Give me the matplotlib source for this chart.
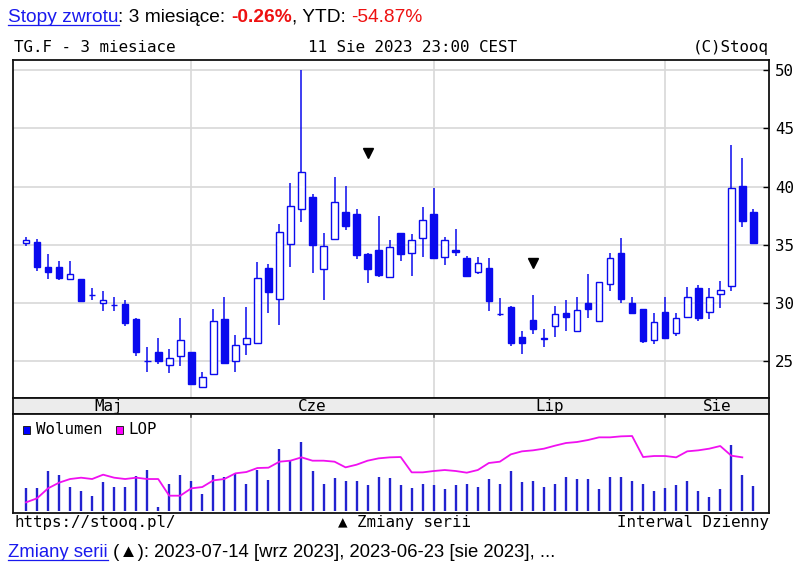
import matplotlib
matplotlib.use('Agg')
import matplotlib.pyplot as plt
from matplotlib.patches import Rectangle
from matplotlib.lines import Line2D
import numpy as np


# daily OHLC, TG.F, 2023-05-11 .. 2023-08-11 (one value per trading day)
opens = [35.15, 35.28, 33.13, 33.13, 32.08, 32.05, 30.72, 30.02, 29.88, 29.93,
         28.62, 25.06, 25.82, 24.70, 25.50, 25.82, 22.84, 23.93, 28.62, 25.00,
         26.47, 26.61, 33.00, 30.36, 35.05, 38.05, 39.14, 32.93, 35.48, 37.85,
         37.62, 34.22, 34.56, 32.28, 36.00, 34.28, 35.62, 37.62, 34.00, 34.60,
         33.85, 32.71, 33.00, 29.10, 29.70, 27.13, 28.56, 26.98, 28.08, 29.19,
         27.62, 30.00, 28.50, 31.62, 34.33, 30.05, 29.47, 26.84, 29.22, 27.47,
         28.79, 31.27, 29.28, 30.76, 31.48, 40.05, 37.85]
highs = [35.65, 35.50, 34.20, 33.60, 33.60, 32.10, 31.27, 31.05, 30.56, 30.27,
         28.70, 26.27, 27.00, 26.04, 28.70, 25.85, 24.07, 29.47, 30.56, 27.24,
         29.70, 33.50, 33.33, 36.77, 40.28, 50.00, 39.34, 36.00, 40.80, 40.05,
         38.08, 34.33, 37.50, 35.42, 36.05, 35.91, 38.23, 39.91, 35.65, 36.36,
         34.08, 33.93, 33.85, 30.42, 29.75, 27.64, 30.70, 27.76, 29.76, 30.27,
         30.56, 32.50, 31.85, 34.33, 35.56, 30.56, 29.50, 29.13, 30.56, 29.19,
         31.42, 31.56, 31.27, 31.90, 43.57, 42.48, 38.08]
lows = [34.90, 32.80, 32.05, 31.95, 32.05, 30.20, 30.27, 29.36, 29.36, 28.00,
        25.47, 24.13, 24.76, 24.00, 24.60, 23.05, 22.84, 23.90, 24.90, 24.13,
        25.56, 26.60, 29.13, 28.13, 33.13, 37.00, 32.56, 30.27, 35.45, 36.28,
        33.76, 31.70, 32.22, 32.20, 33.65, 32.33, 34.00, 33.85, 33.25, 34.05,
        32.33, 32.50, 29.36, 28.93, 26.33, 25.62, 27.33, 26.22, 27.13, 27.64,
        27.50, 28.76, 28.50, 31.05, 30.00, 29.15, 26.56, 26.47, 27.00, 27.19,
        28.75, 28.50, 28.62, 29.62, 31.08, 36.56, 35.19]
closes = [35.40, 33.13, 32.65, 32.20, 32.47, 30.22, 30.68, 30.30, 29.82, 28.27,
          25.80, 25.02, 25.00, 25.27, 26.84, 23.07, 23.70, 28.47, 24.90, 26.42,
          27.05, 32.13, 31.00, 36.14, 38.34, 41.22, 35.00, 34.91, 38.70, 36.65,
          34.13, 32.91, 32.42, 34.79, 34.22, 35.42, 37.14, 33.85, 35.42, 34.42,
          32.33, 33.42, 30.22, 29.04, 26.56, 26.56, 27.76, 26.90, 29.05, 28.79,
          29.42, 29.50, 31.79, 33.85, 30.33, 29.19, 26.76, 28.36, 27.05, 28.70,
          30.50, 28.76, 30.56, 31.13, 39.91, 37.08, 35.19]

# volume and LOP (relative units, panel has no scale)
volume = [67, 67, 119, 106, 71, 59, 45, 85, 72, 72,
          105, 122, 12, 80, 106, 89, 50, 106, 101, 111,
          80, 122, 93, 186, 149, 207, 119, 80, 97, 89,
          89, 76, 101, 97, 76, 68, 81, 77, 64, 77,
          81, 72, 94, 81, 120, 86, 90, 72, 81, 102,
          94, 94, 64, 102, 102, 90, 81, 60, 68, 77,
          90, 60, 42, 64, 196, 107, 73]
lop = [25, 37, 67, 84, 95, 99, 95, 108, 99, 95,
       99, 95, 95, 45, 45, 67, 71, 91, 95, 112,
       116, 128, 129, 147, 150, 160, 150, 150, 147, 130,
       138, 150, 157, 160, 161, 115, 115, 119, 122, 119,
       114, 122, 143, 147, 169, 178, 181, 186, 195, 203,
       206, 212, 220, 220, 223, 224, 161, 164, 164, 160,
       178, 181, 186, 194, 165, 160, np.nan]

months = ['Maj', 'Cze', 'Lip', 'Sie']
month_start = [15, 37, 58]          # index of first session of Cze, Lip, Sie

signal_idx = [31, 46]               # "Zmiany serii" markers (2023-06-23, 2023-07-14)
signal_level = [42.9, 33.45]

price_ticks = [25, 30, 35, 40, 45, 50]

BLUE = '#0a0aee'
GRID = '#d8d8d8'
MONO = 'DejaVu Sans Mono'
MONO_SIZE = 11.4
SANS = ['Liberation Sans', 'DejaVu Sans']
W, H = 800, 569


def fx(x):
    return x / W


def fy(y):
    return 1 - y / H


def rich_text(fig, x, y, parts, size):
    # draws pieces one after another on the same baseline
    renderer = fig.canvas.get_renderer()
    for s, color, weight, underline in parts:
        t = fig.text(fx(x), fy(y), s, color=color, fontweight=weight,
                     fontsize=size, family=SANS, va='baseline')
        bb = t.get_window_extent(renderer)
        if underline:
            fig.add_artist(Line2D([bb.x0 / W, bb.x1 / W], [fy(y + 2.5)] * 2,
                                  color=color, lw=0.9))
        x = bb.x1


fig = plt.figure(figsize=(W / 100, H / 100), dpi=100)
left, right = 13.3, 769.3
xlim = (-1.15, 67.45)

ax = fig.add_axes([fx(left), fy(398.3), (right - left) / W, (398.3 - 60) / H])
band = fig.add_axes([fx(left), fy(414), (right - left) / W, (414 - 398.3) / H])
vol = fig.add_axes([fx(left), fy(512.7), (right - left) / W, (512.7 - 414) / H])

# price panel
x = np.arange(len(opens))
o, h, l, c = map(np.array, (opens, highs, lows, closes))
up = c >= o
ax.vlines(x, l, h, color=BLUE, lw=1.1, zorder=2)
ax.bar(x, np.maximum(np.abs(c - o), 0.03), bottom=np.minimum(o, c), width=0.6,
       color=np.where(up, 'white', BLUE), edgecolor=BLUE, lw=1.0, zorder=3)
ax.plot(signal_idx, signal_level, 'v', color='black', ms=7.5, zorder=4)

ax.set_xlim(*xlim)
ax.set_ylim(21.84, 50.86)
ax.set_yticks(price_ticks)
ax.set_xticks([])
ax.yaxis.tick_right()
ax.tick_params(axis='y', direction='in', length=4, width=1, pad=4,
               labelsize=MONO_SIZE)
for lab in ax.get_yticklabels():
    lab.set_family(MONO)
ax.grid(axis='y', color=GRID, lw=1.2, zorder=0)
for m in month_start:
    ax.axvline(m, color=GRID, lw=1.2, zorder=0)

# month band
band.set_xlim(*xlim)
band.set_ylim(0, 1)
band.set_facecolor('#ececec')
band.set_xticks([])
band.set_yticks([])
edges = [0] + month_start + [xlim[1]]
for name, a, b in zip(months, edges[:-1], edges[1:]):
    band.text((a + b) / 2, 0.45, name, ha='center', va='center',
              family=MONO, fontsize=MONO_SIZE)

# volume panel
vol.vlines(x, 0, volume, color='#2222d0', lw=1.7, zorder=2)
vol.plot(x, lop, color='#f010f0', lw=1.3, zorder=3)
for m in month_start:
    vol.axvline(m, color=GRID, lw=1.2, zorder=0)
    vol.plot([m, m], [282, 290], color='#333333', lw=1.2)
vol.set_xlim(*xlim)
vol.set_ylim(-6, 290)
vol.set_xticks([])
vol.set_yticks([])

for a in (ax, band, vol):
    for sp in a.spines.values():
        sp.set_linewidth(1.3)
        sp.set_color('#111111')

# legend in volume panel
for x0, col in ((22.5, '#0000ff'), (115.5, '#ff00ff')):
    fig.add_artist(Rectangle((fx(x0), fy(434)), 7.5 / W, 8 / H,
                             transform=fig.transFigure, facecolor=col,
                             edgecolor='#222222', lw=0.7))
fig.text(fx(36), fy(434), 'Wolumen', family=MONO, fontsize=MONO_SIZE, va='baseline')
fig.text(fx(128), fy(434), 'LOP', family=MONO, fontsize=MONO_SIZE, va='baseline')

# chart header / footer (monospace)
fig.text(fx(14), fy(52), 'TG.F - 3 miesiace', family=MONO, fontsize=MONO_SIZE,
         va='baseline')
fig.text(fx(413), fy(52), '11 Sie 2023 23:00 CEST', family=MONO, fontsize=MONO_SIZE,
         va='baseline', ha='center')
fig.text(fx(769), fy(52), '(C)Stooq', family=MONO, fontsize=MONO_SIZE,
         va='baseline', ha='right')
fig.text(fx(14), fy(527), 'https://stooq.pl/', family=MONO, fontsize=MONO_SIZE,
         va='baseline')
fig.text(fx(405), fy(527), '\u25b2 Zmiany serii', family=MONO, fontsize=MONO_SIZE,
         va='baseline', ha='center')
fig.text(fx(769), fy(527), 'Interwal Dzienny', family=MONO, fontsize=MONO_SIZE,
         va='baseline', ha='right')

# page text above and below the chart
rich_text(fig, 8, 22, [('Stopy zwrotu', '#1a1aee', 'normal', True),
                       (': 3 miesiące: ', 'black', 'normal', False),
                       ('-0.26%', '#ee1111', 'bold', False),
                       (', YTD: ', 'black', 'normal', False),
                       ('-54.87%', '#ee1111', 'normal', False)], 13.8)
rich_text(fig, 8, 557, [('Zmiany serii', '#1a1aee', 'normal', True),
                        (' (\u25b2): 2023-07-14 [wrz 2023], 2023-06-23 [sie 2023], ...',
                         'black', 'normal', False)], 13.3)

fig.savefig('out.png', dpi=100)
